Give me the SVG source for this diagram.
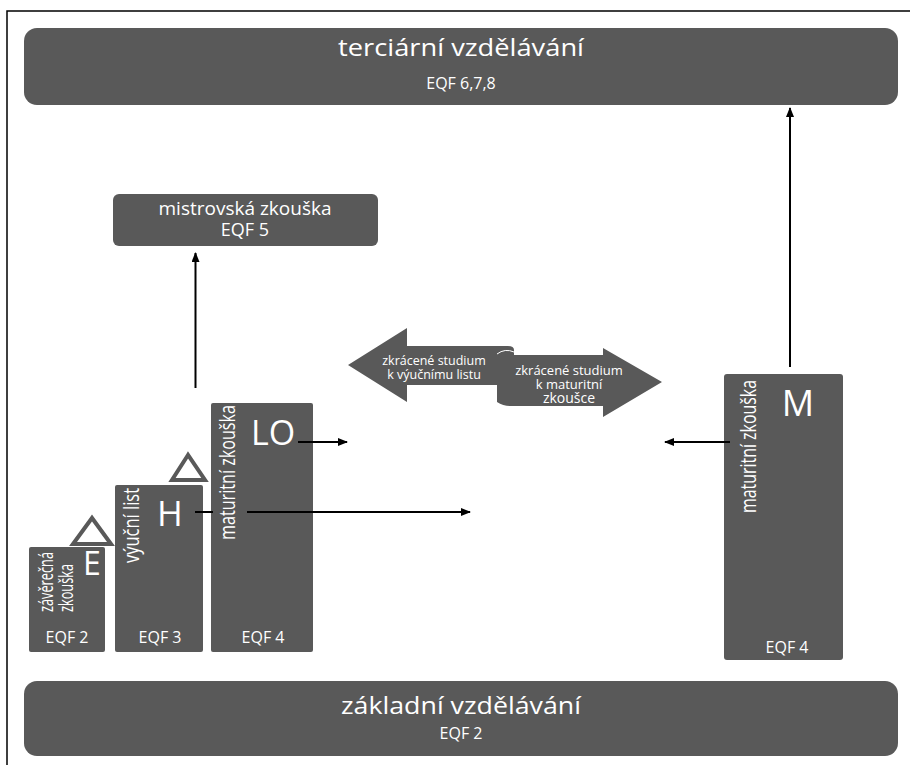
<svg xmlns="http://www.w3.org/2000/svg" width="910" height="765" viewBox="0 0 910 765">
<defs>
<style>
.box{fill:#595959}
.t{fill:#ffffff;font-family:"Open Sans","Noto Sans",sans-serif}
.c{stroke:#000;stroke-width:2;fill:none}
.tri{fill:none;stroke:#595959;stroke-width:4}
</style>
<marker id="ah" markerWidth="10" markerHeight="8" refX="9" refY="4" orient="auto" markerUnits="userSpaceOnUse">
<path d="M0,0 L10,4 L0,8 Z" fill="#000"/>
</marker>
</defs>
<rect x="0" y="0" width="910" height="765" fill="#fff"/>
<path d="M7,765 V11 H910" fill="none" stroke="#000" stroke-width="1.5"/>

<g id="tercialni">
<rect class="box" x="24" y="28" width="874" height="77" rx="13"/>
<text class="t" x="461" y="56" font-size="24" text-anchor="middle" textLength="246" lengthAdjust="spacingAndGlyphs">terciární vzdělávání</text>
<text class="t" x="461" y="89" font-size="16" text-anchor="middle">EQF 6,7,8</text>
</g>

<g id="mistrovska">
<rect class="box" x="113" y="194" width="265" height="52" rx="6"/>
<text class="t" x="245" y="215" font-size="19" text-anchor="middle">mistrovská zkouška</text>
<text class="t" x="245" y="236" font-size="18" text-anchor="middle">EQF 5</text>
</g>

<g id="zkracene">
<path class="box" d="M348,365 L407,328 L407,346 L508,346 Q514,346 514,350 L514,360 L497,360 L497,385 L407,385 L407,402 Z"/>
<path class="box" d="M497,354 Q505,348 514,352 L514,355 L603,355 L603,348 L662,382 L603,417 L603,406 L510,406 Q503,406 497,402 Z"/>
<path d="M497,354 Q505,348 514,352" fill="none" stroke="#fff" stroke-width="1"/>
<text class="t" x="434" y="365" font-size="12.5" text-anchor="middle">zkrácené studium</text>
<text class="t" x="434" y="379" font-size="12.5" text-anchor="middle">k výučnímu listu</text>
<text class="t" x="569" y="375" font-size="13" text-anchor="middle">zkrácené studium</text>
<text class="t" x="569" y="389" font-size="13" text-anchor="middle">k maturitní</text>
<text class="t" x="569" y="403" font-size="14" text-anchor="middle">zkoušce</text>
</g>

<g id="E">
<rect class="box" x="29" y="547" width="76" height="105" rx="2"/>
<path class="tri" d="M92,518 L73,544 L111,544 Z"/>
<text class="t" x="92" y="575" font-size="32" text-anchor="middle">E</text>
<text class="t" transform="translate(53,612) rotate(-90)" font-size="20" textLength="60" lengthAdjust="spacingAndGlyphs">závěrečná</text>
<text class="t" transform="translate(73,612) rotate(-90)" font-size="20" textLength="48" lengthAdjust="spacingAndGlyphs">zkouška</text>
<text class="t" x="67" y="643" font-size="16" text-anchor="middle">EQF 2</text>
</g>

<g id="H">
<rect class="box" x="115" y="485" width="88" height="167" rx="2"/>
<path class="tri" d="M188,455 L172,480 L205,480 Z"/>
<text class="t" x="170" y="526" font-size="35" text-anchor="middle">H</text>
<text class="t" transform="translate(139,563) rotate(-90)" font-size="21" textLength="75" lengthAdjust="spacingAndGlyphs">výuční list</text>
<text class="t" x="160" y="643" font-size="16" text-anchor="middle">EQF 3</text>
</g>

<g id="LO">
<rect class="box" x="211" y="403" width="102" height="249" rx="2"/>
<text class="t" x="273" y="445" font-size="34" text-anchor="middle">LO</text>
<text class="t" transform="translate(235,540) rotate(-90)" font-size="21" textLength="135" lengthAdjust="spacingAndGlyphs">maturitní zkouška</text>
<text class="t" x="263" y="643" font-size="16" text-anchor="middle">EQF 4</text>
</g>

<g id="M">
<rect class="box" x="724" y="374" width="119" height="286" rx="3"/>
<text class="t" x="798" y="416" font-size="36" text-anchor="middle">M</text>
<text class="t" transform="translate(756,513) rotate(-90)" font-size="21" textLength="133" lengthAdjust="spacingAndGlyphs">maturitní zkouška</text>
<text class="t" x="787" y="653" font-size="16" text-anchor="middle">EQF 4</text>
</g>

<g id="zakladni">
<rect class="box" x="24" y="681" width="874" height="75" rx="13"/>
<text class="t" x="461" y="714" font-size="24" text-anchor="middle" textLength="240" lengthAdjust="spacingAndGlyphs">základní vzdělávání</text>
<text class="t" x="461" y="739" font-size="16" text-anchor="middle">EQF 2</text>
</g>

<g id="connectors">
<line class="c" x1="195.5" y1="388" x2="195.5" y2="253" marker-end="url(#ah)"/>
<line class="c" x1="790" y1="367" x2="790" y2="108" marker-end="url(#ah)"/>
<line class="c" x1="298" y1="442" x2="347" y2="442" marker-end="url(#ah)"/>
<line class="c" x1="195" y1="512" x2="213" y2="512"/>
<line class="c" x1="247" y1="512" x2="470" y2="512" marker-end="url(#ah)"/>
<line class="c" x1="730" y1="442" x2="665" y2="442" marker-end="url(#ah)"/>
</g>
</svg>
